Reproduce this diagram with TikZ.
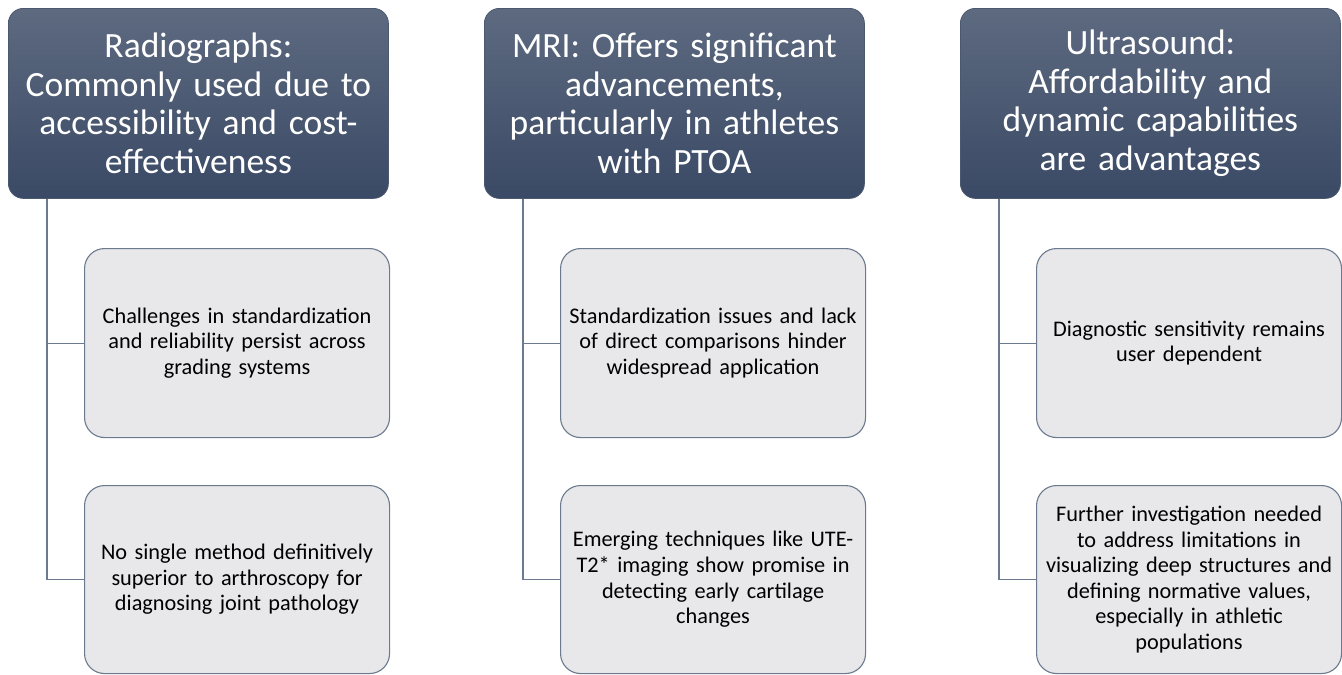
\documentclass[tikz,border=0pt]{standalone}
\usepackage{fontspec}
\setmainfont{Carlito}
\definecolor{headtop}{HTML}{5D6A80}
\definecolor{headbot}{HTML}{3A4965}
\definecolor{headedge}{HTML}{4B5870}
\definecolor{childfill}{HTML}{E8E7E9}
\definecolor{childedge}{HTML}{6B7A8F}
\begin{document}
\begin{tikzpicture}[x=1pt,y=1pt,
  head/.style={anchor=north west, rounded corners=15pt, top color=headtop, bottom color=headbot,
    draw=headedge, line width=0.8pt, minimum width=380pt, minimum height=190pt, inner sep=0pt,
    text width=372pt, align=center, text=white, font=\fontsize{35.5}{38.5}\selectfont},
  child/.style={anchor=north west, rounded corners=20pt, fill=childfill, draw=childedge,
    line width=1.1pt, minimum width=305pt, minimum height=189pt, inner sep=0pt,
    text width=298pt, align=center, text=black, font=\fontsize{22.3}{25.6}\selectfont},
  conn/.style={draw=childedge, line width=1.1pt}]
\useasboundingbox (0,0) rectangle (1342,-675);

% column 1: radiographs
\node[head] (h1) at (8,-8) {Radiographs:\\Commonly used due to\\accessibility and cost-\\effectiveness};
\node[child] (c11) at (84,-248) {Challenges in standardization\\and reliability persist across\\grading systems};
\node[child, minimum height=188pt] (c12) at (84,-485) {No single method definitively\\superior to arthroscopy for\\diagnosing joint pathology};
\draw[conn] ([xshift=39pt]h1.south west) |- (c11.west);
\draw[conn] ([xshift=39pt]h1.south west) |- (c12.west);

% column 2: MRI
\node[head] (h2) at (484,-8) {MRI: Offers significant\\advancements,\\particularly in athletes\\with PTOA};
\node[child] (c21) at (560,-248) {Standardization issues and lack\\of direct comparisons hinder\\widespread application};
\node[child, minimum height=188pt] (c22) at (560,-485) {Emerging techniques like UTE-\\T2* imaging show promise in\\detecting early cartilage\\changes};
\draw[conn] ([xshift=39pt]h2.south west) |- (c21.west);
\draw[conn] ([xshift=39pt]h2.south west) |- (c22.west);

% column 3: ultrasound
\node[head] (h3) at (960,-8) {Ultrasound:\\Affordability and\\dynamic capabilities\\are advantages};
\node[child] (c31) at (1036,-248) {Diagnostic sensitivity remains\\user dependent};
\node[child, minimum height=188pt] (c32) at (1036,-485) {Further investigation needed\\to address limitations in\\visualizing deep structures and\\defining normative values,\\especially in athletic\\populations};
\draw[conn] ([xshift=39pt]h3.south west) |- (c31.west);
\draw[conn] ([xshift=39pt]h3.south west) |- (c32.west);
\end{tikzpicture}
\end{document}
